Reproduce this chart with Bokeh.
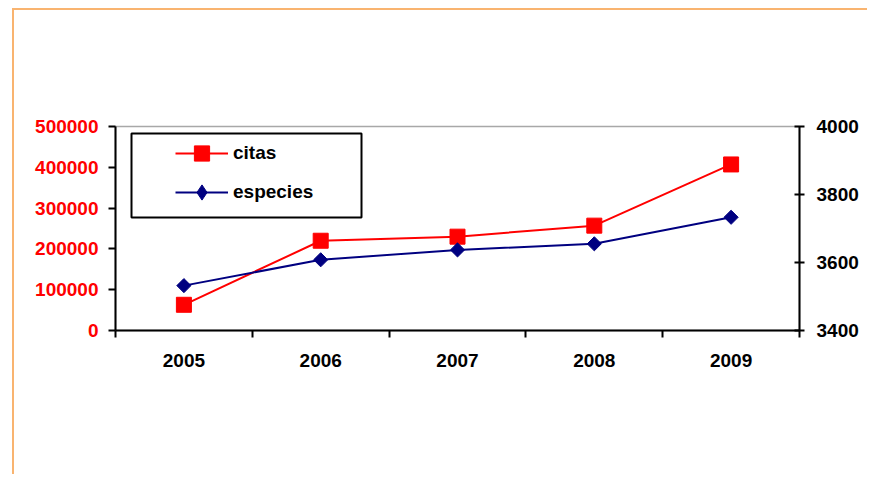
from bokeh.plotting import figure
from bokeh.models import (Range1d, LinearAxis, FixedTicker, NumeralTickFormatter,
                          Legend, LegendItem, BoxAnnotation)
from bokeh.embed import file_html
from bokeh.resources import INLINE
import math

# ---- data ----
years = ["2005", "2006", "2007", "2008", "2009"]
citas = [63000, 220000, 230000, 257000, 407000]
especies = [3532, 3608, 3637, 3655, 3733]
left_ticks = [0, 100000, 200000, 300000, 400000, 500000]
right_ticks = [3400, 3600, 3800, 4000]

xs = list(range(len(years)))
FONT = "Liberation Sans"
FS = "19px"

p = figure(width=855, height=466, output_backend="svg", toolbar_location=None,
           x_range=Range1d(-0.5, len(years) - 0.5),
           y_range=Range1d(left_ticks[0], left_ticks[-1]),
           min_border_left=101, min_border_right=70, min_border_top=116,
           min_border_bottom=146, x_axis_location=None, y_axis_location=None)
p.margin = (8, 0, 0, 12)
p.styles = {"border-top": "2px solid #F9B470", "border-left": "2px solid #F9B470"}
p.extra_y_ranges = {"esp": Range1d(right_ticks[0], right_ticks[-1])}
p.xgrid.visible = False
p.ygrid.visible = False
p.outline_line_color = "#A8A8A8"
p.outline_line_width = 1.5
p.background_fill_color = "white"
p.border_fill_color = "white"

# bottom axis: labels at category centres, ticks at boundaries (minor)
xaxis = LinearAxis(ticker=FixedTicker(ticks=xs, minor_ticks=[i - 0.5 for i in range(len(years) + 1)]),
                   major_label_overrides={i: y for i, y in enumerate(years)})
xaxis.major_tick_out = 0
xaxis.major_tick_in = 0
xaxis.minor_tick_out = 7
xaxis.minor_tick_in = 0
xaxis.minor_tick_line_width = 2
xaxis.axis_line_width = 2
xaxis.axis_line_color = "black"
xaxis.major_label_standoff = 16
xaxis.major_label_text_font = FONT
xaxis.major_label_text_font_style = "bold"
xaxis.major_label_text_font_size = FS
xaxis.major_label_text_color = "black"
p.add_layout(xaxis, "below")

# left axis (citas)
laxis = LinearAxis(ticker=FixedTicker(ticks=left_ticks), formatter=NumeralTickFormatter(format="0"))
laxis.major_tick_out = 7
laxis.major_tick_in = 0
laxis.minor_tick_out = 0
laxis.minor_tick_in = 0
laxis.major_tick_line_width = 2
laxis.axis_line_width = 2
laxis.major_label_standoff = 10
laxis.major_label_text_font = FONT
laxis.major_label_text_font_style = "bold"
laxis.major_label_text_font_size = FS
laxis.major_label_text_color = "#FF0000"
p.add_layout(laxis, "left")

# right axis (especies)
raxis = LinearAxis(y_range_name="esp", ticker=FixedTicker(ticks=right_ticks))
raxis.major_tick_out = 5
raxis.major_tick_in = 5
raxis.minor_tick_out = 0
raxis.minor_tick_in = 0
raxis.major_tick_line_width = 2
raxis.axis_line_width = 2
raxis.major_label_standoff = 12
raxis.major_label_text_font = FONT
raxis.major_label_text_font_style = "bold"
raxis.major_label_text_font_size = FS
raxis.major_label_text_color = "black"
p.add_layout(raxis, "right")

# series
lc = p.line(xs, citas, line_color="#FF0000", line_width=2)
mc = p.scatter(xs, citas, marker="square", size=15, fill_color="#FF0000", line_color="#FF0000")
le = p.line(xs, especies, line_color="#000080", line_width=2, y_range_name="esp")
me = p.scatter(xs, especies, marker="square", angle=math.pi / 4, size=10,
               fill_color="#000080", line_color="#000080", y_range_name="esp")
# legend-only diamond (hidden in the plot)
me_leg = p.scatter(xs, especies, marker="diamond", size=10,
                   fill_color="#000080", line_color="#000080", y_range_name="esp",
                   visible=False)

# legend box
box = BoxAnnotation(left=16, right=246, bottom=113, top=197,
                    left_units="screen", right_units="screen",
                    bottom_units="screen", top_units="screen",
                    fill_alpha=0, line_color="black", line_alpha=1, line_width=2)
p.add_layout(box)

legend = Legend(items=[LegendItem(label="citas", renderers=[lc, mc]),
                       LegendItem(label="especies", renderers=[le, me_leg])],
                location=(60, 119), glyph_width=53, glyph_height=38, spacing=1,
                padding=0, label_standoff=5, label_text_font=FONT,
                label_text_font_style="bold", label_text_font_size=FS,
                label_text_color="black",
                border_line_alpha=0, background_fill_alpha=0)
p.add_layout(legend)

open("out.html", "w").write(file_html(p, INLINE))
